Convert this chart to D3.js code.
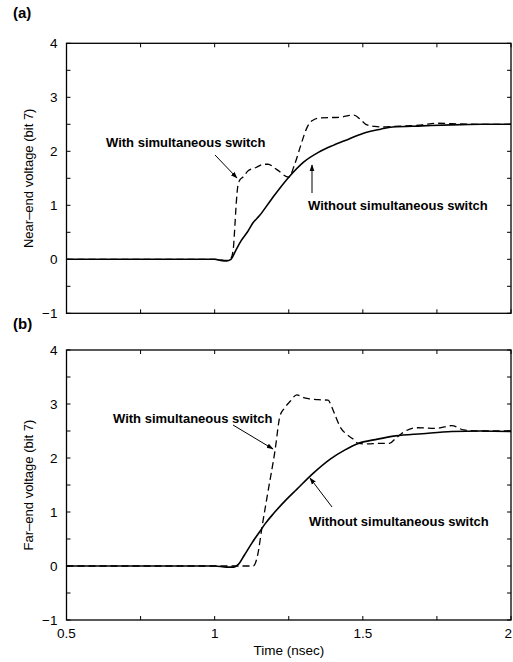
<!DOCTYPE html>
<html>
<head>
<meta charset="utf-8">
<script src="https://cdn.jsdelivr.net/npm/d3@7"></script>
<style>
  body { margin: 0; background: #fff; }
  text { font-family: "Liberation Sans", Arial, sans-serif; fill: #000; }
</style>
</head>
<body>
<div id="chart"></div>
<script>
// tick values
var xTicks = [0.5, 0.75, 1, 1.25, 1.5, 1.75, 2];
var xTickLabels = ["0.5", "", "1", "", "1.5", "", "2"];
var yTicks = [-1, -0.5, 0, 0.5, 1, 1.5, 2, 2.5, 3, 3.5, 4];

// (a) near-end, without simultaneous switch (solid)
var nearSolidT = [0.5, 1.0, 1.02, 1.04, 1.055, 1.07, 1.09, 1.11, 1.13, 1.15, 1.19, 1.25, 1.3, 1.35, 1.4, 1.45, 1.5, 1.56, 1.6, 1.7, 1.8, 1.9, 2.0];
var nearSolidV = [0, 0, -0.02, -0.03, 0.0, 0.15, 0.35, 0.5, 0.68, 0.8, 1.1, 1.52, 1.8, 1.98, 2.11, 2.22, 2.33, 2.41, 2.45, 2.47, 2.49, 2.5, 2.5];

// (a) near-end, with simultaneous switch (dashed)
var nearDashT = [0.5, 1.0, 1.04, 1.055, 1.063, 1.068, 1.073, 1.078, 1.085, 1.095, 1.113, 1.14, 1.165, 1.18, 1.21, 1.25, 1.27, 1.29, 1.31, 1.32, 1.333, 1.36, 1.42, 1.47, 1.49, 1.51, 1.54, 1.57, 1.6, 1.7, 1.75, 1.8, 1.9, 2.0];
var nearDashV = [0, 0, -0.02, 0.02, 0.2, 0.6, 1.05, 1.35, 1.47, 1.52, 1.64, 1.7, 1.76, 1.76, 1.66, 1.52, 1.76, 2.1, 2.42, 2.52, 2.58, 2.62, 2.63, 2.67, 2.6, 2.5, 2.46, 2.45, 2.46, 2.49, 2.52, 2.51, 2.5, 2.5];

// (b) far-end, without simultaneous switch (solid)
var farSolidT = [0.5, 1.0, 1.04, 1.065, 1.08, 1.1, 1.125, 1.15, 1.17, 1.2, 1.24, 1.277, 1.333, 1.39, 1.44, 1.48, 1.55, 1.61, 1.7, 1.8, 1.9, 2.0];
var farSolidV = [0, 0, -0.02, -0.02, 0.03, 0.2, 0.42, 0.62, 0.78, 0.98, 1.22, 1.42, 1.72, 1.98, 2.15, 2.26, 2.35, 2.41, 2.45, 2.49, 2.5, 2.49];

// (b) far-end, with simultaneous switch (dashed)
var farDashT = [0.5, 1.0, 1.1, 1.13, 1.145, 1.16, 1.181, 1.204, 1.22, 1.235, 1.255, 1.277, 1.3, 1.316, 1.35, 1.383, 1.395, 1.406, 1.423, 1.445, 1.465, 1.485, 1.52, 1.547, 1.59, 1.61, 1.63, 1.68, 1.75, 1.8, 1.84, 1.9, 2.0];
var farDashV = [0, 0, 0, 0.0, 0.2, 0.73, 1.41, 2.15, 2.77, 2.92, 3.05, 3.17, 3.12, 3.1, 3.08, 3.07, 2.95, 2.8, 2.58, 2.44, 2.36, 2.27, 2.26, 2.27, 2.27, 2.36, 2.45, 2.56, 2.55, 2.6, 2.52, 2.5, 2.5];

var W = 513, H = 662;
var svg = d3.select("#chart").append("svg")
  .attr("width", W)
  .attr("height", H);

var left = 66.5, right = 511;
var x = d3.scaleLinear().domain([0.5, 2]).range([left, right]);

function zipData(t, v) {
  return t.map(function(d, i) { return {t: d, v: v[i]}; });
}

function drawPanel(top, bottom, cfg) {
  var y = d3.scaleLinear().domain([-1, 4]).range([bottom, top]);
  var g = svg.append("g");

  // frame
  g.append("rect")
    .attr("x", left).attr("y", top)
    .attr("width", right - left).attr("height", bottom - top)
    .attr("fill", "none").attr("stroke", "#000").attr("stroke-width", 1.3);

  // ticks on all four sides, pointing in
  var tl = 4;
  xTicks.forEach(function(t) {
    g.append("line").attr("x1", x(t)).attr("x2", x(t)).attr("y1", bottom).attr("y2", bottom - tl)
      .attr("stroke", "#000");
    g.append("line").attr("x1", x(t)).attr("x2", x(t)).attr("y1", top).attr("y2", top + tl)
      .attr("stroke", "#000");
  });
  yTicks.forEach(function(v) {
    g.append("line").attr("x1", left).attr("x2", left + tl).attr("y1", y(v)).attr("y2", y(v))
      .attr("stroke", "#000");
    g.append("line").attr("x1", right).attr("x2", right - tl).attr("y1", y(v)).attr("y2", y(v))
      .attr("stroke", "#000");
    if (v % 1 === 0) {
      g.append("text")
        .attr("x", left - 9).attr("y", y(v) + 5)
        .attr("text-anchor", "end")
        .style("font-size", "13.5px")
        .text(v < 0 ? "\u2212" + Math.abs(v) : v);
    }
  });

  if (cfg.xLabels) {
    xTicks.forEach(function(t, i) {
      if (!xTickLabels[i]) return;
      var last = i === xTicks.length - 1;
      g.append("text")
        .attr("x", last ? W - 1 : x(t)).attr("y", bottom + 18)
        .attr("text-anchor", last ? "end" : "middle")
        .style("font-size", "13.5px")
        .text(xTickLabels[i]);
    });
  }

  // y label
  g.append("text")
    .attr("transform", "translate(33," + ((top + bottom) / 2) + ") rotate(-90)")
    .attr("text-anchor", "middle")
    .style("font-size", "13px")
    .text(cfg.yLabel);

  // panel letter
  g.append("text")
    .attr("x", 13).attr("y", cfg.letterY)
    .style("font-size", "15px").style("font-weight", "bold")
    .text(cfg.letter);

  var line = d3.line()
    .x(function(d) { return x(d.t); })
    .y(function(d) { return y(d.v); })
    .curve(d3.curveMonotoneX);

  g.append("path")
    .datum(zipData(cfg.dashT, cfg.dashV))
    .attr("fill", "none").attr("stroke", "#000").attr("stroke-width", 1.3)
    .attr("stroke-dasharray", "7,4")
    .attr("d", line);

  g.append("path")
    .datum(zipData(cfg.solidT, cfg.solidV))
    .attr("fill", "none").attr("stroke", "#000").attr("stroke-width", 1.6)
    .attr("d", line);

  // annotations
  cfg.notes.forEach(function(n) {
    g.append("text")
      .attr("x", n.tx).attr("y", n.ty)
      .style("font-size", "13px").style("font-weight", "bold")
      .text(n.text);
    g.append("line")
      .attr("x1", n.ax1).attr("y1", n.ay1).attr("x2", n.ax2).attr("y2", n.ay2)
      .attr("stroke", "#000").attr("stroke-width", 1)
      .attr("marker-end", "url(#arrow)");
  });

  return y;
}

svg.append("defs").append("marker")
  .attr("id", "arrow")
  .attr("viewBox", "0 0 10 10")
  .attr("refX", 9).attr("refY", 5)
  .attr("markerWidth", 7).attr("markerHeight", 7)
  .attr("markerUnits", "userSpaceOnUse")
  .attr("orient", "auto")
  .append("path")
  .attr("d", "M0,1.5 L10,5 L0,8.5 Z")
  .attr("fill", "#000");

drawPanel(43.3, 313.3, {
  letter: "(a)", letterY: 18,
  yLabel: "Near\u2013end voltage (bit 7)",
  xLabels: false,
  solidT: nearSolidT, solidV: nearSolidV,
  dashT: nearDashT, dashV: nearDashV,
  notes: [
    {text: "With simultaneous switch", tx: 106, ty: 147, ax1: 215, ay1: 155, ax2: 237, ay2: 178},
    {text: "Without simultaneous switch", tx: 308, ty: 210, ax1: 312, ay1: 193, ax2: 312, ay2: 165}
  ]
});

drawPanel(350, 620, {
  letter: "(b)", letterY: 329,
  yLabel: "Far\u2013end voltage (bit 7)",
  xLabels: true,
  solidT: farSolidT, solidV: farSolidV,
  dashT: farDashT, dashV: farDashV,
  notes: [
    {text: "With simultaneous switch", tx: 113, ty: 423, ax1: 233, ay1: 425, ax2: 273, ay2: 449},
    {text: "Without simultaneous switch", tx: 309, ty: 526, ax1: 332, ay1: 507, ax2: 310, ay2: 478}
  ]
});

svg.append("text")
  .attr("x", 289).attr("y", 655)
  .attr("text-anchor", "middle")
  .style("font-size", "13.5px")
  .text("Time (nsec)");
</script>
</body>
</html>
